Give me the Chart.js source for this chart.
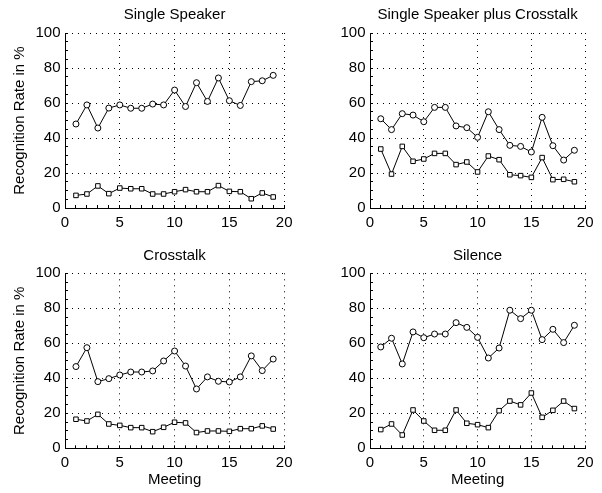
<!DOCTYPE html>
<html>
<head>
<meta charset="utf-8">
<script src="https://cdn.jsdelivr.net/npm/chart.js@4/dist/chart.umd.min.js"></script>
<style>
  body { margin: 0; background: #fff; }
  #wrap { position: relative; width: 602px; height: 493px; }
  canvas { position: absolute; }
</style>
</head>
<body>
<div id="wrap">
  <canvas id="ss" width="301" height="246" style="left:0;top:0"></canvas>
  <canvas id="ssc" width="301" height="246" style="left:301px;top:0"></canvas>
  <canvas id="ct" width="301" height="247" style="left:0;top:246px"></canvas>
  <canvas id="sil" width="301" height="247" style="left:301px;top:246px"></canvas>
</div>
<script>
const meetings = [1, 2, 3, 4, 5, 6, 7, 8, 9, 10, 11, 12, 13, 14, 15, 16, 17, 18, 19];

const singleCircle = [48, 58.9, 45.7, 57.1, 58.9, 57, 57, 59.4, 58.9, 67.4, 58, 71.6, 60.9, 74.3, 61.3, 58.6, 72.2, 72.7, 75.8];
const singleSquare = [7.2, 8, 12.6, 8.2, 11.4, 11, 11, 8, 8, 9.3, 10.5, 9.3, 9.3, 12.8, 9.5, 9.3, 5.3, 8.6, 6.3];

const plusCircle = [51, 44.8, 53.9, 53.1, 49.3, 57.5, 57.5, 46.9, 45.9, 40.4, 55, 44.8, 35.8, 35.2, 32, 51.8, 35.6, 27.4, 33];
const plusSquare = [33.7, 19.4, 35.2, 26.7, 28, 31.2, 31.2, 24.8, 26.3, 20.6, 29.7, 27.6, 19, 18.5, 17.5, 28.8, 16.2, 16.4, 15];

const crossCircle = [46.7, 57.5, 38.1, 39.8, 41.9, 43.6, 43.6, 44.2, 49.9, 55.6, 47, 33.9, 40.8, 38.3, 37.9, 40.8, 52.8, 44.4, 51];
const crossSquare = [16.6, 15.6, 19.4, 13.9, 13.1, 11.8, 11.8, 9.5, 12, 14.9, 14.5, 9, 9.9, 9.9, 9.7, 11.2, 11.2, 12.8, 11];

const silenceCircle = [57.9, 62.9, 48.2, 66.5, 63.2, 65.3, 65.3, 71.8, 69.1, 63.4, 51.6, 57.3, 78.9, 74.1, 78.9, 62.1, 68, 60.4, 70.3];
const silenceSquare = [10.7, 13.9, 7.6, 21.9, 15.6, 10.3, 10.3, 21.9, 14.3, 13.5, 11.8, 21.5, 27, 24.8, 31.6, 17.7, 21.7, 27, 22.7];

const xTicks = [0, 5, 10, 15, 20];
const yTicks = [0, 20, 40, 60, 80, 100];

const font = {family: '"Liberation Sans", Arial, sans-serif', size: 15, weight: 'normal'};
Chart.defaults.font.family = font.family;
Chart.defaults.color = '#000';

const toPoints = (vals) => meetings.map((m, i) => ({x: m, y: vals[i]}));

const makeSet = (vals, style, r) => ({
  data: toPoints(vals),
  borderColor: '#000',
  borderWidth: 1,
  pointStyle: style,
  pointRadius: r,
  pointBorderWidth: 1,
  pointBackgroundColor: '#fff',
  pointBorderColor: '#000',
  tension: 0
});

const makeChart = (id, title, circles, squares, opts) => {
  new Chart(document.getElementById(id), {
    type: 'line',
    data: {datasets: [makeSet(circles, 'circle', 3), makeSet(squares, 'rect', 3.2)]},
    options: {
      responsive: false,
      animation: false,
      layout: {padding: {left: 0, right: opts.right, top: 0, bottom: 0}},
      plugins: {
        legend: {display: false},
        tooltip: {enabled: false},
        title: {display: true, text: title, font: font, color: '#000', fullSize: false, padding: opts.titlePad}
      },
      scales: {
        x: {
          type: 'linear', min: 0, max: 20,
          ticks: {
            stepSize: 1, autoSkip: false, maxRotation: 0, padding: 8.5, font: font,
            callback: (v) => xTicks.includes(v) ? v : ''
          },
          grid: {
            color: (c) => c.tick && xTicks.includes(c.tick.value) ? '#000' : 'rgba(0,0,0,0)',
            tickColor: '#000', tickLength: -3
          },
          border: {display: true, color: '#000', width: 1, dash: [1, 5]},
          title: {display: opts.xTitle, text: 'Meeting', font: font, padding: {top: 4.5, bottom: 4.5}},
          afterFit: (s) => { s.height = opts.xHeight; }
        },
        y: {
          min: 0, max: 100,
          ticks: {
            stepSize: 5, autoSkip: false, padding: 7.5, font: font,
            callback: (v) => yTicks.includes(v) ? v : ''
          },
          grid: {
            color: (c) => c.tick && yTicks.includes(c.tick.value) ? '#000' : 'rgba(0,0,0,0)',
            tickColor: '#000', tickLength: -3
          },
          border: {display: true, color: '#000', width: 1, dash: [1, 5]},
          title: {display: opts.yTitle, text: 'Recognition Rate in %', font: font, padding: {top: 10.5, bottom: 0}},
          afterFit: (s) => { s.width = opts.yWidth; }
        }
      }
    }
  });
};

makeChart('ss', 'Single Speaker', singleCircle, singleSquare,
  {right: 14, yWidth: 65, xHeight: 38, yTitle: true, xTitle: false, titlePad: {top: 5.4, bottom: 9.6}});
makeChart('ssc', 'Single Speaker plus Crosstalk', plusCircle, plusSquare,
  {right: 9, yWidth: 69, xHeight: 38, yTitle: false, xTitle: false, titlePad: {top: 5.4, bottom: 9.6}});
makeChart('ct', 'Crosstalk', crossCircle, crossSquare,
  {right: 14, yWidth: 65, xHeight: 44.7, yTitle: true, xTitle: true, titlePad: {top: 0.5, bottom: 8.8}});
makeChart('sil', 'Silence', silenceCircle, silenceSquare,
  {right: 9, yWidth: 69, xHeight: 44.7, yTitle: false, xTitle: true, titlePad: {top: 0.5, bottom: 8.8}});
</script>
</body>
</html>
